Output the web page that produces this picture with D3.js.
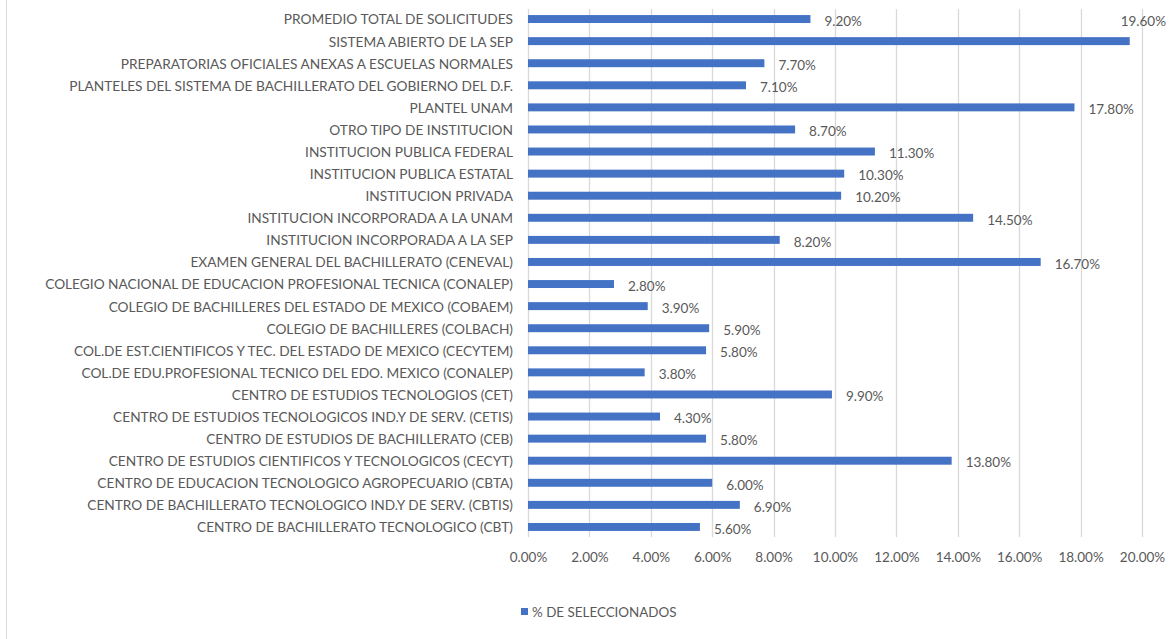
<!DOCTYPE html>
<html>
<head>
<meta charset="utf-8">
<script src="https://cdn.jsdelivr.net/npm/d3@7"></script>
<style>
  body { margin: 0; background: #fff; }
  text { font-family: Lato, "Open Sans", sans-serif; fill: #595959; }
</style>
</head>
<body>
<div id="app"></div>
<script>
(function (d3) {
  'use strict'

  const categories = [
    'PROMEDIO TOTAL DE SOLICITUDES',
    'SISTEMA ABIERTO DE LA SEP',
    'PREPARATORIAS OFICIALES ANEXAS A ESCUELAS NORMALES',
    'PLANTELES DEL SISTEMA DE BACHILLERATO DEL GOBIERNO DEL D.F.',
    'PLANTEL UNAM',
    'OTRO TIPO DE INSTITUCION',
    'INSTITUCION PUBLICA FEDERAL',
    'INSTITUCION PUBLICA ESTATAL',
    'INSTITUCION PRIVADA',
    'INSTITUCION INCORPORADA A LA UNAM',
    'INSTITUCION INCORPORADA A LA SEP',
    'EXAMEN GENERAL DEL BACHILLERATO (CENEVAL)',
    'COLEGIO NACIONAL DE EDUCACION PROFESIONAL TECNICA (CONALEP)',
    'COLEGIO DE BACHILLERES DEL ESTADO DE MEXICO (COBAEM)',
    'COLEGIO DE BACHILLERES (COLBACH)',
    'COL.DE EST.CIENTIFICOS Y TEC. DEL ESTADO DE MEXICO (CECYTEM)',
    'COL.DE EDU.PROFESIONAL TECNICO DEL EDO. MEXICO (CONALEP)',
    'CENTRO DE ESTUDIOS TECNOLOGIOS (CET)',
    'CENTRO DE ESTUDIOS TECNOLOGICOS IND.Y DE SERV. (CETIS)',
    'CENTRO DE ESTUDIOS DE BACHILLERATO (CEB)',
    'CENTRO DE ESTUDIOS CIENTIFICOS Y TECNOLOGICOS (CECYT)',
    'CENTRO DE EDUCACION TECNOLOGICO AGROPECUARIO (CBTA)',
    'CENTRO DE BACHILLERATO TECNOLOGICO IND.Y DE SERV. (CBTIS)',
    'CENTRO DE BACHILLERATO TECNOLOGICO (CBT)'
  ]
  const values = [9.2, 19.6, 7.7, 7.1, 17.8, 8.7, 11.3, 10.3, 10.2, 14.5, 8.2, 16.7,
                  2.8, 3.9, 5.9, 5.8, 3.8, 9.9, 4.3, 5.8, 13.8, 6.0, 6.9, 5.6]
  const xTicks = [0, 2, 4, 6, 8, 10, 12, 14, 16, 18, 20]
  const seriesName = '% DE SELECCIONADOS'

  const data = categories.map(function (c, i) { return { name: c, value: values[i] } })

  const W = 1171, H = 639
  const fontSize = '13.5px'
  const svg = d3.select('#app').append('svg')
                .attr('width', W)
                .attr('height', H)

  // chart area border (left edge visible)
  svg.append('line')
     .attr('x1', 6.5).attr('x2', 6.5)
     .attr('y1', 0).attr('y2', H)
     .style('stroke', '#d9d9d9')
     .style('stroke-width', 1)

  const xScale = d3.scaleLinear().domain([0, 20]).range([528, 1142])
  const yScale = d3.scaleBand().domain(categories).range([8, 538]).paddingInner(0.64).paddingOuter(0.32)

  // gridlines
  svg.append('g')
     .selectAll('line')
     .data(xTicks)
     .enter()
     .append('line')
     .attr('x1', function (d) { return Math.round(xScale(d)) + 0.5 })
     .attr('x2', function (d) { return Math.round(xScale(d)) + 0.5 })
     .attr('y1', 9)
     .attr('y2', 537)
     .style('stroke', '#d9d9d9')
     .style('stroke-width', 1.3)

  // x axis
  const xAxis = d3.axisBottom(xScale)
                  .tickValues(xTicks)
                  .tickSize(0)
                  .tickPadding(0)
                  .tickFormat(function (d) { return d.toFixed(2) + '%' })
  const gx = svg.append('g')
                .attr('transform', 'translate(0,552)')
                .call(xAxis)
  gx.select('.domain').remove()
  gx.selectAll('text')
    .style('font-family', 'Lato, "Open Sans", sans-serif')
    .style('font-size', fontSize)
    .style('fill', '#595959')

  // y axis labels
  const yAxis = d3.axisLeft(yScale).tickSize(0).tickPadding(0)
  const gy = svg.append('g')
                .attr('transform', 'translate(513,1)')
                .call(yAxis)
  gy.select('.domain').remove()
  gy.selectAll('text')
    .style('font-family', 'Lato, "Open Sans", sans-serif')
    .style('font-size', '13.7px')
    .style('fill', '#595959')

  // bars
  svg.append('g')
     .selectAll('rect')
     .data(data)
     .enter()
     .append('rect')
     .attr('x', xScale(0))
     .attr('y', function (d) { return yScale(d.name) })
     .attr('width', function (d) { return xScale(d.value) - xScale(0) })
     .attr('height', yScale.bandwidth())
     .style('fill', '#4472c4')

  // data labels
  svg.append('g')
     .selectAll('text')
     .data(data)
     .enter()
     .append('text')
     .attr('x', function (d) {
       if (d.value > 19) return W - 5
       return xScale(d.value) + 14
     })
     .attr('y', function (d, i) {
       const yc = yScale(d.name) + yScale.bandwidth() / 2 + 2
       if (d.value > 19) return yc - yScale.step()
       return yc
     })
     .attr('dy', '0.35em')
     .attr('text-anchor', function (d) { return d.value > 19 ? 'end' : 'start' })
     .style('font-size', fontSize)
     .text(function (d) { return d.value.toFixed(2) + '%' })

  // legend
  const legend = svg.append('g').attr('transform', 'translate(521,608)')
  legend.append('rect')
        .attr('width', 7).attr('height', 7)
        .style('fill', '#4472c4')
  legend.append('text')
        .attr('x', 11).attr('y', 4)
        .attr('dy', '0.35em')
        .style('font-size', '13.4px')
        .text(seriesName)

})(d3)
</script>
</body>
</html>
